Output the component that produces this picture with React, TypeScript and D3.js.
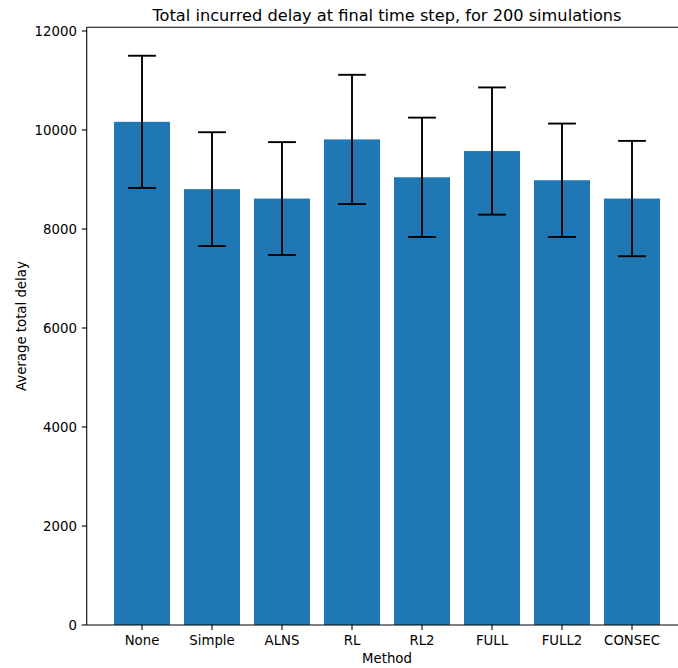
import React from "react";
import * as d3 from "d3";

// Mean total delay and its standard deviation for each method
const methods = ["None", "Simple", "ALNS", "RL", "RL2", "FULL", "FULL2", "CONSEC"];
const meanDelay = [10165, 8805, 8615, 9810, 9045, 9575, 8985, 8615];
const stdDelay = [1335, 1150, 1140, 1305, 1205, 1285, 1145, 1165];
const yTicks = [0, 2000, 4000, 6000, 8000, 10000, 12000];

const W = 678;
const H = 668;
const FONT = "'DejaVu Sans', sans-serif";
const BAR = "#1f77b4";
const TICK_FS = 13.3;

export default function App() {
  const n = methods.length;
  const barWidth = 0.8;
  const xMarginData = (n - 1 + barWidth) * 0.05;
  const x = d3
    .scaleLinear()
    .domain([-barWidth / 2 - xMarginData, n - 1 + barWidth / 2 + xMarginData])
    .range([86.7, 687.3]);

  const yMax = d3.max(meanDelay.map((m, i) => m + stdDelay[i])) as number;
  const y = d3.scaleLinear().domain([0, yMax * 1.05]).range([625, 625 - yMax * 1.05 * 0.0495]);

  const [x0, x1] = x.range();
  const [yb, yt] = y.range();
  const cap = 13.9;

  return (
    <div style={{ position: "fixed", left: 0, top: 0 }}>
      <svg width={W} height={H} style={{ display: "block", background: "#fff" }} fontFamily={FONT}>
        {/* bars */}
        {meanDelay.map((v, i) => (
          <rect
            key={methods[i]}
            x={x(i - barWidth / 2)}
            width={x(i + barWidth / 2) - x(i - barWidth / 2)}
            y={y(v)}
            height={y(0) - y(v)}
            fill={BAR}
          />
        ))}
        {/* error bars */}
        {meanDelay.map((v, i) => {
          const cx = x(i);
          const lo = y(v - stdDelay[i]);
          const hi = y(v + stdDelay[i]);
          return (
            <g key={"e" + i} stroke="#000" strokeWidth={1.9}>
              <line x1={cx} x2={cx} y1={lo} y2={hi} />
              <line x1={cx - cap} x2={cx + cap} y1={lo} y2={lo} />
              <line x1={cx - cap} x2={cx + cap} y1={hi} y2={hi} />
            </g>
          );
        })}
        {/* spines */}
        <g stroke="#000" strokeWidth={1.1} fill="none">
          <line x1={x0} x2={x0} y1={yb} y2={yt} />
          <line x1={x1} x2={x1} y1={yb} y2={yt} />
          <line x1={x0} x2={x1} y1={yb} y2={yb} />
          <line x1={x0} x2={x1} y1={yt} y2={yt} />
        </g>
        {/* y axis */}
        {yTicks.map((t) => (
          <g key={"y" + t} transform={`translate(0,${y(t)})`}>
            <line x1={x0 - 4.9} x2={x0} stroke="#000" strokeWidth={1.1} />
            <text x={x0 - 9.8} dy="0.36em" textAnchor="end" fontSize={TICK_FS} fill="#000">
              {t}
            </text>
          </g>
        ))}
        {/* x axis */}
        {methods.map((m, i) => (
          <g key={"x" + m} transform={`translate(${x(i)},0)`}>
            <line y1={yb} y2={yb + 4.9} stroke="#000" strokeWidth={1.1} />
            <text y={645} textAnchor="middle" fontSize={TICK_FS} fill="#000">
              {m}
            </text>
          </g>
        ))}
        <text x={(x0 + x1) / 2} y={663} textAnchor="middle" fontSize={TICK_FS} fill="#000">
          Method
        </text>
        <text
          transform={`translate(26,${(yb + yt) / 2}) rotate(-90)`}
          textAnchor="middle"
          fontSize={TICK_FS}
          fill="#000"
        >
          Average total delay
        </text>
        <text x={(x0 + x1) / 2} y={20.5} textAnchor="middle" fontSize={16.2} fill="#000">
          Total incurred delay at final time step, for 200 simulations
        </text>
      </svg>
    </div>
  );
}
